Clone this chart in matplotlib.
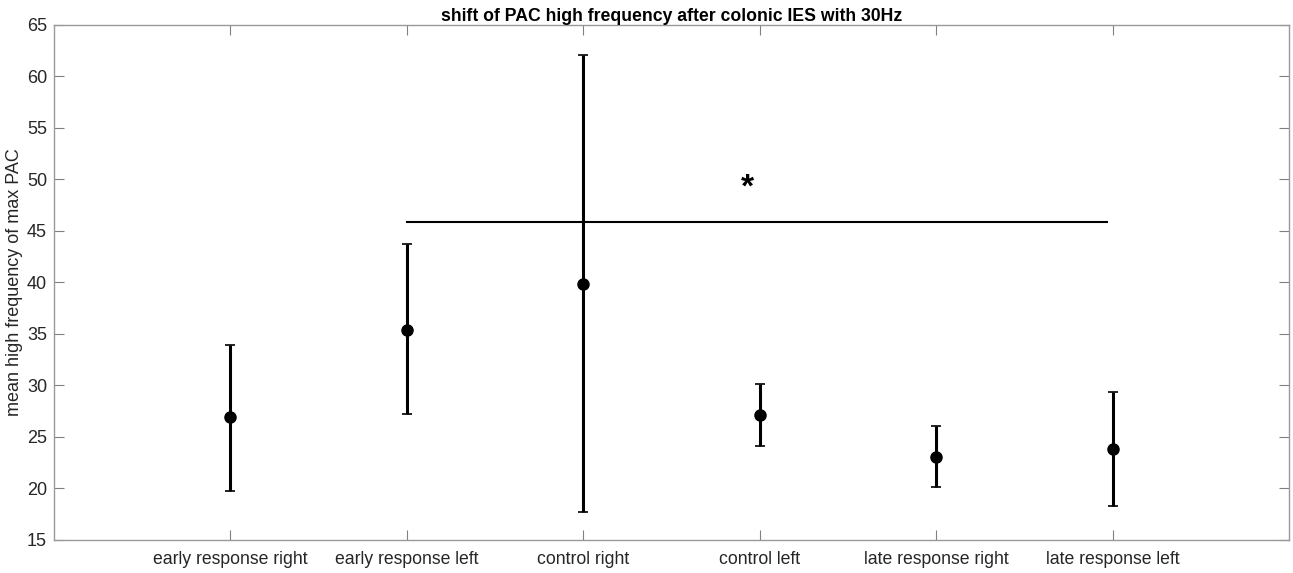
import matplotlib.pyplot as plt
import numpy as np

plt.rcParams['font.family'] = ['Liberation Sans', 'DejaVu Sans']

groups = ['early response right', 'early response left', 'control right',
          'control left', 'late response right', 'late response left']
means = [26.9, 35.4, 39.9, 27.1, 23.1, 23.8]
upper = [33.9, 43.7, 62.1, 30.1, 26.1, 29.4]
lower = [19.8, 27.2, 17.7, 24.1, 20.1, 18.3]

# significance bracket
sig_x = [2, 5.97]
sig_y = 45.9
star_x, star_y = 3.93, 49.2

x = np.arange(1, len(groups) + 1)
means = np.array(means)
err = np.vstack([means - np.array(lower), np.array(upper) - means])

fig = plt.figure(figsize=(12.93, 5.73), dpi=100)
ax = fig.add_axes([0.0418, 0.0576, 0.9552, 0.8988])

ax.errorbar(x, means, yerr=err, fmt='o', color='black', ecolor='black',
            elinewidth=2.2, capsize=3.5, capthick=1.2, markersize=8)
ax.plot(sig_x, [sig_y, sig_y], color='black', lw=1.5)
ax.text(star_x, star_y, '*', ha='center', va='center', fontsize=24,
        fontweight='bold')

ax.set_xlim(0, 7)
ax.set_ylim(15, 65)
ax.set_yticks(np.arange(15, 66, 5))
ax.set_xticks(x)
ax.set_xticklabels(groups, fontsize=12.7)
ax.tick_params(axis='y', labelsize=13, pad=5)
ax.tick_params(direction='in', length=7, color='#808080', top=True, right=True,
               labelcolor='#262626')
ax.tick_params(axis='x', pad=8)
for s in ax.spines.values():
    s.set_color('#999999')
    s.set_linewidth(1.0)

ax.set_ylabel('mean high frequency of max PAC', fontsize=13, color='#262626', labelpad=3)
ax.set_title('shift of PAC high frequency after colonic IES with 30Hz',
             fontsize=12.7, fontweight='bold', pad=3)

fig.savefig('out.png', dpi=100)
